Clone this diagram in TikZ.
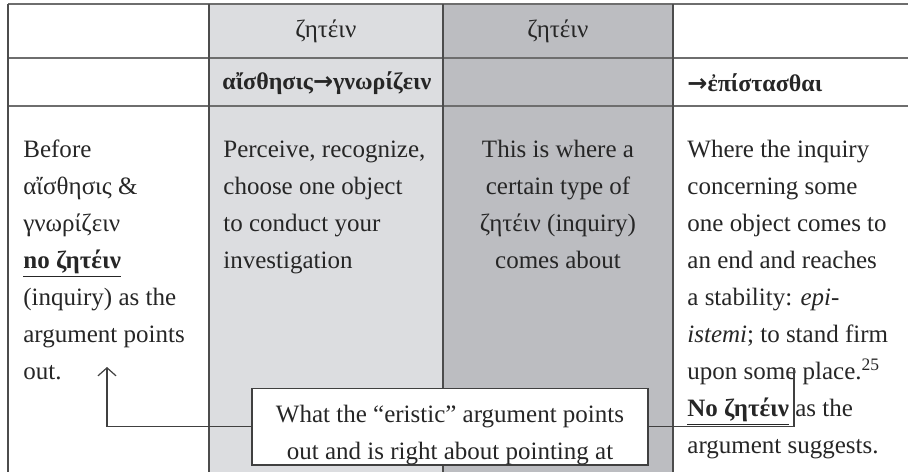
\documentclass[tikz,border=0pt]{standalone}
\usepackage{fontspec}
\setmainfont{Liberation Serif}
\newfontfamily\arrowfont{DejaVu Sans}
\usepackage{xcolor}
\usetikzlibrary{arrows.meta,positioning}

\definecolor{lightcol}{HTML}{DCDDE0}
\definecolor{darkcol}{HTML}{BCBDC1}
\definecolor{gridline}{HTML}{6E6E6E}
\newcommand{\toarrow}{{\arrowfont\bfseries\fontsize{12}{14}\selectfont →}}

\begin{document}
\begin{tikzpicture}[x=0.5pt, y=-0.5pt,
  cell/.style={inner sep=0pt, font=\fontsize{12.5}{18.5}\selectfont, text=black!85},
  head/.style={cell, font=\fontsize{12}{18.5}\selectfont\bfseries},
  callout/.style={draw=black!75, fill=white, line width=0.6pt, inner sep=0pt,
    minimum width=198pt, align=center, font=\fontsize{12.5}{18.5}\selectfont, text=black!85},
  pointer/.style={draw=black!75, line width=0.6pt}]
  \useasboundingbox (0,0) rectangle (908,472);

  % column shading
  \fill[lightcol] (209,4) rectangle (443,472);
  \fill[darkcol] (443,4) rectangle (673,472);

  % grid
  \foreach \yy in {4,58,106}
    \draw[gridline, line width=0.9pt] (8,\yy) -- (908,\yy);
  \foreach \xx in {8,209,443,673}
    \draw[black!70, line width=0.7pt] (\xx,4) -- (\xx,472);

  % header rows
  \node[cell] (zetA) at (326,31) {ζητέιν};
  \node[cell] (zetB) at (558,31) {ζητέιν};
  \node[head, anchor=west] (percept) at (222,83) {αἴσθησις\toarrow γνωρίζειν};
  \node[head, anchor=west] (episteme) at (687,83) {\toarrow ἐπίστασθαι};

  % body cells
  \node[cell, anchor=north west, align=left] (before) at (23,131)
    {\strut Before\\ αἴσθησις \&\\ γνωρίζειν\\ \textbf{\underline{no ζητέιν}}\\
     (inquiry) as the\\ argument points\\ out.};
  \node[cell, anchor=north west, align=left] (perceive) at (223,131)
    {\strut Perceive, recognize,\\ choose one object\\ to conduct your\\ investigation};
  \node[cell, anchor=north, align=center] (inquiry) at (558,131)
    {\strut This is where a\\ certain type of\\ ζητέιν (inquiry)\\ comes about};
  \node[cell, anchor=north west, align=left] (stable) at (687,131)
    {\strut Where the inquiry\\ concerning some\\ one object comes to\\ an end and reaches\\
     a stability: \textit{epi-}\\ \textit{istemi}; to stand firm\\
     upon some place.\textsuperscript{25}\\ \textbf{\underline{No ζητέιν}} as the\\ argument suggests.};

  % eristic callout
  \node[callout, anchor=north] (eristic) at (450,388)
    {\rule{0pt}{17pt}What the “eristic” argument points\\ out and is right about pointing at};
  \coordinate (leftend) at (107,367);
  \coordinate (rightend) at (794,368);
  \draw[pointer, -{Straight Barb[length=4pt, width=9pt]}] (eristic.west) -| (leftend);
  \draw[pointer] (eristic.east) -| (rightend);
\end{tikzpicture}
\end{document}
